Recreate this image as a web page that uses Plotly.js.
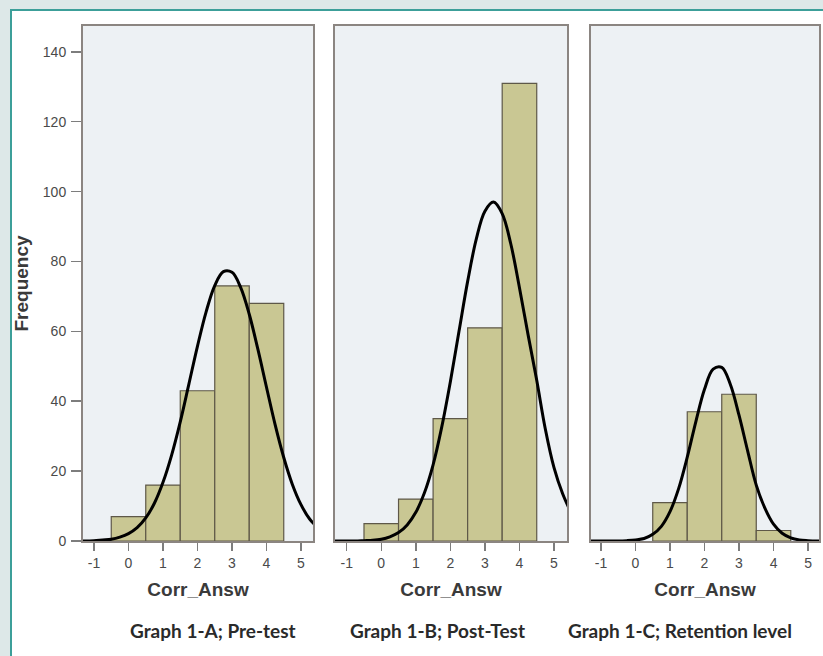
<!DOCTYPE html>
<html>
<head>
<meta charset="utf-8">
<script src="https://cdn.plot.ly/plotly-3.0.1.min.js"></script>
<style>
  html, body { margin: 0; padding: 0; width: 823px; height: 656px; overflow: hidden; background: #dde8e8; }
  #frame { position: absolute; left: 10px; top: 9px; right: 0; bottom: 0; background: #ffffff;
           border-left: 2px solid #3c9f99; border-top: 2px solid #3c9f99; }
  #chart { position: absolute; left: 0; top: 0; width: 823px; height: 656px; }
</style>
</head>
<body>
<div id="frame"></div>
<div id="chart"></div>
<script>
// ---- data ----
const binCenters = [0, 1, 2, 3, 4];
const preTestFreq = [7, 16, 43, 73, 68];
const postTestFreq = [5, 12, 35, 61, 131];
const retentionBins = [1, 2, 3, 4];
const retentionFreq = [11, 37, 42, 3];

// normal-curve overlay, values
const curveX = [-1.5,-1.25,-1,-0.75,-0.5,-0.25,0,0.25,0.5,0.75,1,1.25,1.5,1.75,2,2.25,2.5,2.75,3,3.25,3.5,3.75,4,4.25,4.5,4.75,5,5.25,5.5];
const preTestCurve = [0.0,0.0,0.1,0.3,0.5,1.1,2.1,3.8,6.6,10.8,16.8,24.6,34.1,44.9,55.8,65.6,73.1,77.1,76.9,72.6,64.9,54.9,44.0,33.3,23.9,16.2,10.4,6.3,3.7];
const postTestCurve = [0.0,0.0,0.0,0.0,0.1,0.2,0.5,1.2,2.4,4.6,8.2,13.8,21.8,32.6,45.6,60.0,74.3,86.4,94.4,97.0,93.7,85.0,72.5,59.0,46.0,32.0,21.0,13.5,8.0];
const retentionCurve = [0.0,0.0,0.0,0.0,0.0,0.1,0.3,0.7,1.9,4.2,8.4,15.0,24.0,34.2,43.4,49.2,49.7,44.8,36.0,25.8,16.0,9.4,4.8,2.2,0.9,0.3,0.1,0.0,0.0];

const xTicks = [-1, 0, 1, 2, 3, 4, 5];
const yTicks = [0, 20, 40, 60, 80, 100, 120, 140];
const xTitle = "Corr_Answ";
const yTitle = "Frequency";
const captions = ["Graph 1-A; Pre-test", "Graph 1-B; Post-Test", "Graph 1-C; Retention level"];

// ---- styling ----
const barFill = "#c9c793";
const barEdge = "#5e5848";
const frameColor = "#8b8581";
const tickFont = { family: "Liberation Sans, Arial, sans-serif", size: 14, color: "#4a4a4a" };
const titleFont = { family: "Liberation Sans, Arial, sans-serif", size: 19, color: "#3a3a3a", weight: "bold" };

function barTrace(x, y, xa, ya) {
  return { type: "bar", x: x, y: y, width: 1, xaxis: xa, yaxis: ya,
           marker: { color: barFill, line: { color: barEdge, width: 1.2 } },
           hoverinfo: "x+y", showlegend: false };
}
function curveTrace(y, xa, ya) {
  return { type: "scatter", mode: "lines", x: curveX, y: y, xaxis: xa, yaxis: ya,
           line: { color: "#000000", width: 3, shape: "spline", smoothing: 1 },
           hoverinfo: "skip", showlegend: false };
}

const data = [
  barTrace(binCenters, preTestFreq, "x", "y"),
  curveTrace(preTestCurve, "x", "y"),
  barTrace(binCenters, postTestFreq, "x2", "y2"),
  curveTrace(postTestCurve, "x2", "y2"),
  barTrace(retentionBins, retentionFreq, "x3", "y3"),
  curveTrace(retentionCurve, "x3", "y3")
];

const W = 823, H = 656;
const yDom = [(H - 541) / H, (H - 26) / H];
const yRange = [0, 147.4];

function xAxis(dom, range, anchor) {
  return {
    domain: dom, range: range, anchor: anchor, automargin: false,
    tickmode: "array", tickvals: xTicks, ticktext: xTicks.map(String),
    ticks: "outside", ticklen: 8, tickwidth: 1.5, tickcolor: "#7d7d7d",
    tickfont: tickFont, ticklabelstandoff: 0, showgrid: false, zeroline: false,
    showline: true, mirror: true, linecolor: frameColor, linewidth: 2,
    title: { text: xTitle, font: titleFont, standoff: 13 }
  };
}
function yAxis(anchor, labels) {
  const ax = {
    domain: yDom, range: yRange, anchor: anchor, automargin: false,
    showgrid: false, zeroline: false,
    showline: true, mirror: true, linecolor: frameColor, linewidth: 2
  };
  if (labels) {
    Object.assign(ax, {
      tickmode: "array", tickvals: yTicks, ticktext: yTicks.map(String),
      ticks: "outside", ticklen: 10, tickwidth: 1.5, tickcolor: "#7d7d7d",
      tickfont: tickFont, ticklabelstandoff: 2,
      title: { text: yTitle, font: titleFont, standoff: 9 }
    });
  } else {
    Object.assign(ax, { showticklabels: false, ticks: "" });
  }
  return ax;
}

const layout = {
  width: W, height: H,
  margin: { l: 0, r: 0, t: 0, b: 0, pad: 0 },
  paper_bgcolor: "rgba(0,0,0,0)",
  plot_bgcolor: "#edf1f4",
  bargap: 0,
  showlegend: false,
  xaxis: xAxis([83 / W, 313 / W], [-1.319, 5.348], "y"),
  xaxis2: xAxis([335 / W, 567 / W], [-1.339, 5.376], "y2"),
  xaxis3: xAxis([591 / W, 819 / W], [-1.289, 5.318], "y3"),
  yaxis: yAxis("x", true),
  yaxis2: yAxis("x2", false),
  yaxis3: yAxis("x3", false),
  annotations: [
    { text: captions[0], x: 213 / W, y: (H - 630) / H },
    { text: captions[1], x: 437.5 / W, y: (H - 630) / H },
    { text: captions[2], x: 680 / W, y: (H - 630) / H }
  ].map(a => Object.assign(a, {
    xref: "paper", yref: "paper", xanchor: "center", yanchor: "middle", showarrow: false,
    font: { family: "Lato, Open Sans, sans-serif", size: 19, color: "#2a2a2a", weight: "bold" }
  }))
};

Plotly.newPlot("chart", data, layout, { displayModeBar: false, staticPlot: true });
</script>
</body>
</html>
